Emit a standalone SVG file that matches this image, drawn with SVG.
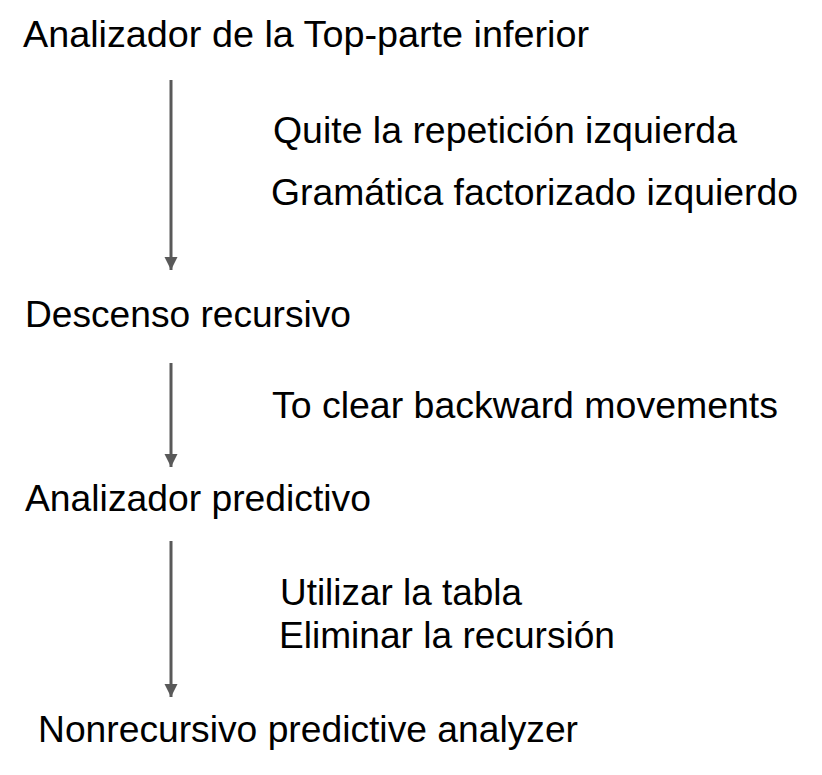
<svg xmlns="http://www.w3.org/2000/svg" width="822" height="775" viewBox="0 0 822 775">
<style>
text{font-family:"Liberation Sans",Arial,sans-serif;font-size:36px;fill:#000}
.c line{stroke:#595959;stroke-width:3}
</style>
<defs>
<marker id="ah" viewBox="0 0 10 10" refX="10" refY="5" markerWidth="4.5" markerHeight="4.5" orient="auto" markerUnits="strokeWidth">
<path d="M0,0 L10,5 L0,10 Z" fill="#595959"/>
</marker>
</defs>
<rect width="822" height="775" fill="#fff"/>
<g class="c" id="connectors">
<line x1="171" y1="80" x2="171" y2="270" marker-end="url(#ah)"/>
<line x1="171" y1="363" x2="171" y2="467" marker-end="url(#ah)"/>
<line x1="171" y1="541" x2="171" y2="697" marker-end="url(#ah)"/>
<text x="273" y="143" textLength="464" lengthAdjust="spacingAndGlyphs">Quite la repetición izquierda</text>
<text x="271" y="205" textLength="527" lengthAdjust="spacingAndGlyphs">Gramática factorizado izquierdo</text>
<text x="272" y="418" textLength="506" lengthAdjust="spacingAndGlyphs">To clear backward movements</text>
<text x="280" y="605" textLength="242" lengthAdjust="spacingAndGlyphs">Utilizar la tabla</text>
<text x="279" y="648" textLength="336" lengthAdjust="spacingAndGlyphs">Eliminar la recursión</text>
</g>
<g id="n1"><text x="23" y="47" textLength="566" lengthAdjust="spacingAndGlyphs">Analizador de la Top-parte inferior</text></g>
<g id="n2"><text x="25" y="327" textLength="326" lengthAdjust="spacingAndGlyphs">Descenso recursivo</text></g>
<g id="n3"><text x="25" y="511" textLength="346" lengthAdjust="spacingAndGlyphs">Analizador predictivo</text></g>
<g id="n4"><text x="38" y="742" textLength="540" lengthAdjust="spacingAndGlyphs">Nonrecursivo predictive analyzer</text></g>
</svg>
